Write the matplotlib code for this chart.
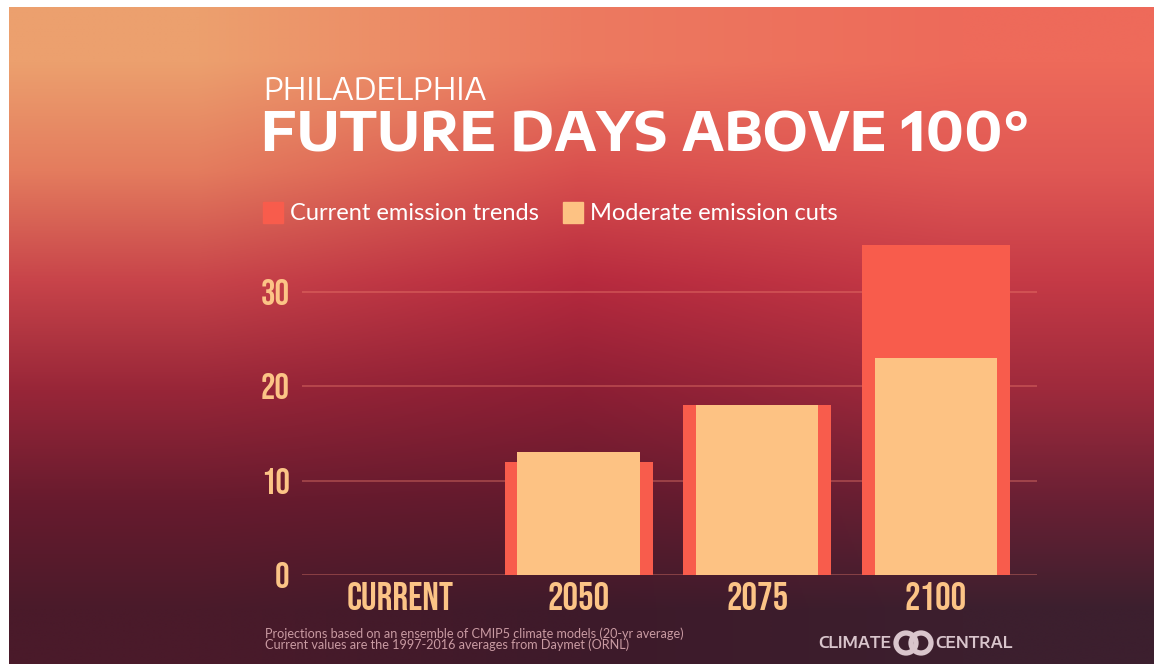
import numpy as np
import matplotlib
matplotlib.use("Agg")
import matplotlib.pyplot as plt
from matplotlib.colors import to_rgb
from matplotlib.patches import Rectangle, Ellipse

# data
categories = ["CURRENT", "2050", "2075", "2100"]
current_trends = [0, 12, 18, 35]
moderate_cuts = [0, 13, 18, 23]
yticks = [0, 10, 20, 30]
legend_labels = ["Current emission trends", "Moderate emission cuts"]

red = "#f85c4c"
peach = "#fdc283"
tick_col = "#fcc486"
tick_font = ["Bebas Neue", "DejaVu Sans"]
title_font = ["Encode Sans Semi Expanded", "Open Sans", "DejaVu Sans"]

W, H = 1154, 664
fig = plt.figure(figsize=(W / 100, H / 100), dpi=100)
fig.patch.set_facecolor("white")

# background gradient (rows top->bottom, cols left->right)
bg_cols = [
    ["#eca06e", "#ec7a60", "#ee6a5a"],
    ["#e47c5e", "#d9504e", "#e05854"],
    ["#c8444a", "#b72a3e", "#c53a46"],
    ["#982638", "#8c1e34", "#9e2a3c"],
    ["#681b2e", "#621a2d", "#6a2034"],
    ["#4a1a2a", "#3e1a2a", "#3c1f2e"],
]
bg_img = np.array([[to_rgb(c) for c in row] for row in bg_cols])
bg = fig.add_axes([9 / W, 0, 1 - 9 / W, 1 - 7 / H], zorder=-5)
bg.imshow(bg_img, aspect="auto", interpolation="bilinear", extent=[0, 1, 0, 1])
bg.axis("off")

# main axes
x0, x1 = 302, 1037
y0 = 575
px_per_unit = 9.43
ymax = 36
ax = fig.add_axes([x0 / W, (H - y0) / H, (x1 - x0) / W, ymax * px_per_unit / H])
ax.patch.set_alpha(0)

x = np.arange(len(categories))
ax.bar(x, current_trends, width=0.83, color=red, zorder=3)
ax.bar(x, moderate_cuts, width=0.686, color=peach, zorder=4)

ax.set_xlim(-0.55, 3.567)
ax.set_ylim(0, ymax)
ax.set_yticks(yticks)
for t in yticks:
    ax.axhline(t, color="#f08070", alpha=0.4, lw=1.3, zorder=1)

ax.set_xticks(x, categories)
ax.tick_params(length=0, colors=tick_col)
ax.tick_params(axis="y", pad=9)
ax.tick_params(axis="x", pad=5)
for lab in ax.get_xticklabels():
    lab.set_fontfamily(tick_font)
    lab.set_fontsize(28)
for lab in ax.get_yticklabels():
    lab.set_fontfamily(tick_font)
    lab.set_fontsize(26)
for s in ax.spines.values():
    s.set_visible(False)

# titles
fig.text(263 / W, 1 - 100 / H, "PHILADELPHIA", color="white", fontsize=22,
         family=title_font, weight="normal", va="baseline", ha="left")
fig.text(261 / W, 1 - 152 / H, "FUTURE DAYS ABOVE 100°", color="white", fontsize=39,
         family=title_font, weight="bold", va="baseline", ha="left")

# legend
for lx, col, lab in [(263, red, legend_labels[0]), (563, peach, legend_labels[1])]:
    fig.patches.append(Rectangle((lx / W, 1 - 223 / H), 20 / W, 21 / H,
                                 transform=fig.transFigure, color=col))
    fig.text((lx + 27) / W, 1 - 213 / H, lab, color="white", fontsize=17,
             family="Lato", va="center", ha="left")

# footnote
fig.text(265 / W, 1 - 634 / H,
         "Projections based on an ensemble of CMIP5 climate models (20-yr average)",
         color="#c99aa2", fontsize=9.1, family="Lato", va="center", ha="left")
fig.text(265 / W, 1 - 645 / H,
         "Current values are the 1997-2016 averages from Daymet (ORNL)",
         color="#c99aa2", fontsize=9.1, family="Lato", va="center", ha="left")

# logo
logo_col = "#d9c5cc"
fig.text(891 / W, 1 - 643 / H, "CLIMATE", color=logo_col, fontsize=11.5,
         family=title_font, weight="semibold", va="center", ha="right")
fig.text(935 / W, 1 - 643 / H, "CENTRAL", color=logo_col, fontsize=11.5,
         family=title_font, weight="semibold", va="center", ha="left")
for cx in [906, 921]:
    fig.patches.append(Ellipse((cx / W, 1 - 643 / H), 20 / W, 20 / H,
                               transform=fig.transFigure, fill=False,
                               ec=logo_col, lw=3.8))

fig.savefig("out.png", dpi=100, facecolor=fig.get_facecolor())
